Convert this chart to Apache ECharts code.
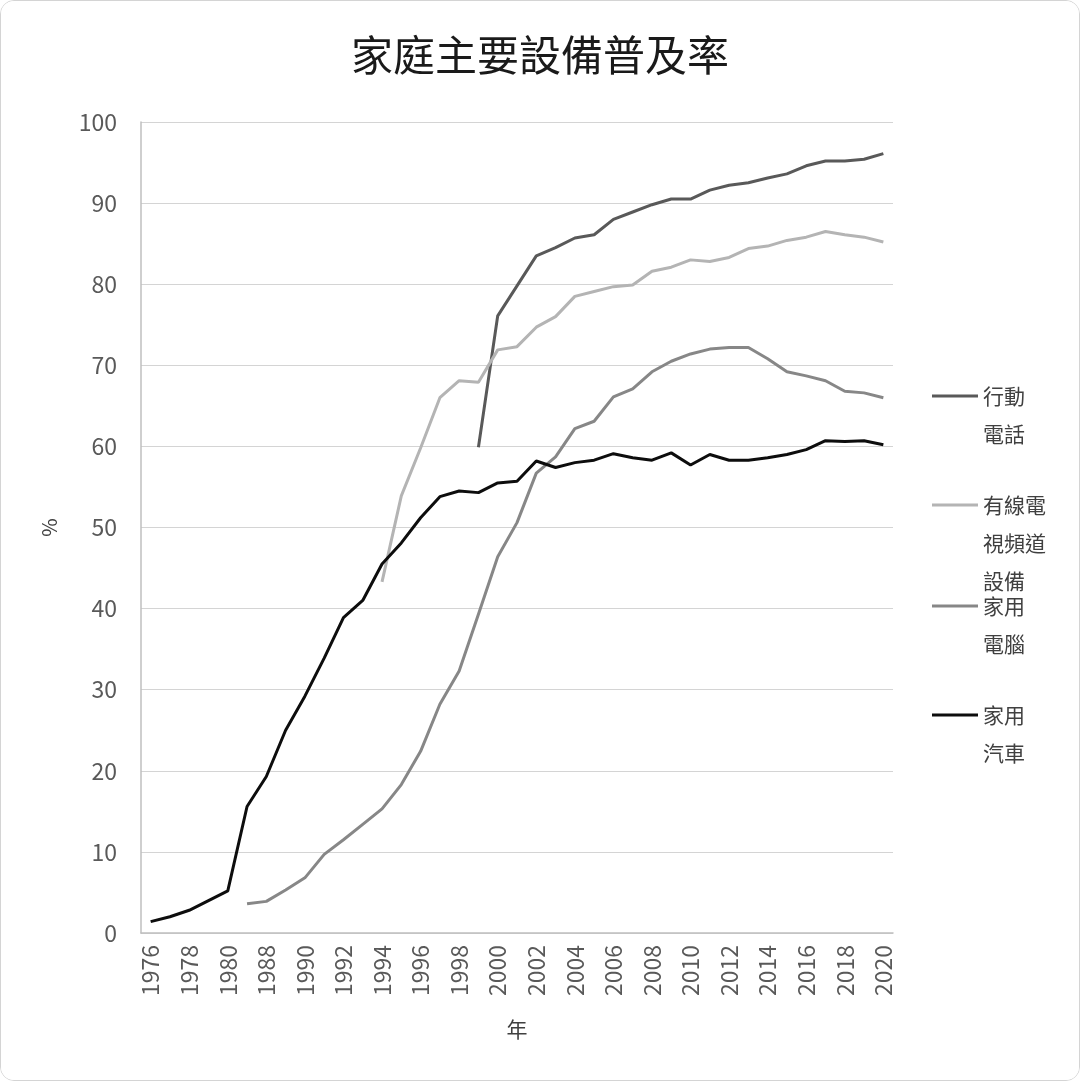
<!DOCTYPE html>
<html>
<head>
<meta charset="utf-8">
<script src="https://cdn.jsdelivr.net/npm/echarts@6/dist/echarts.min.js"></script>
<style>
  html, body { margin: 0; padding: 0; background: #fff; }
  #chart_pjl {
    width: 1080px;
    height: 1081px;
    box-sizing: border-box;
    border: 1px solid #d4d4d4;
    border-radius: 14px;
    overflow: hidden;
  }
</style>
</head>
<body>
<div id="chart_pjl"></div>
<script>
// 年份（1981-1986 無資料）
const years = [
  "1976", "1977", "1978", "1979", "1980",
  "1987", "1988", "1989", "1990", "1991", "1992", "1993", "1994", "1995", "1996",
  "1997", "1998", "1999", "2000", "2001", "2002", "2003", "2004", "2005", "2006",
  "2007", "2008", "2009", "2010", "2011", "2012", "2013", "2014", "2015", "2016",
  "2017", "2018", "2019", "2020"
];

const mobilePhone = [
  null, null, null, null, null,
  null, null, null, null, null, null, null, null, null, null,
  null, null, 59.9, 76.1, 79.8, 83.5, 84.5, 85.7, 86.1, 88.0,
  88.9, 89.8, 90.5, 90.5, 91.6, 92.2, 92.5, 93.1, 93.6, 94.6,
  95.2, 95.2, 95.4, 96.1
];

const cableTv = [
  null, null, null, null, null,
  null, null, null, null, null, null, null, 43.3, 53.9, 59.8,
  66.0, 68.1, 67.9, 71.9, 72.3, 74.7, 76.0, 78.5, 79.1, 79.7,
  79.9, 81.6, 82.1, 83.0, 82.8, 83.3, 84.4, 84.7, 85.4, 85.8,
  86.5, 86.1, 85.8, 85.2
];

const homePc = [
  null, null, null, null, null,
  3.6, 3.9, 5.3, 6.8, 9.7, 11.5, 13.4, 15.3, 18.3, 22.4,
  28.2, 32.3, 39.3, 46.4, 50.6, 56.7, 58.7, 62.2, 63.1, 66.1,
  67.1, 69.2, 70.5, 71.4, 72.0, 72.2, 72.2, 70.8, 69.2, 68.7,
  68.1, 66.8, 66.6, 66.0
];

const homeCar = [
  1.4, 2.0, 2.8, 4.0, 5.2,
  15.6, 19.3, 25.0, 29.2, 33.9, 38.9, 41.0, 45.5, 48.1, 51.2,
  53.8, 54.5, 54.3, 55.5, 55.7, 58.2, 57.4, 58.0, 58.3, 59.1,
  58.6, 58.3, 59.2, 57.7, 59.0, 58.3, 58.3, 58.6, 59.0, 59.6,
  60.7, 60.6, 60.7, 60.2
];

const yTicks = { min: 0, max: 100, step: 10 };

const seriesNames = ["行動電話", "有線電視頻道設備", "家用電腦", "家用汽車"];
// 圖例換行文字（前面空行讓第一行對齊圖示）
const legendText = {
  "行動電話": "\n行動\n電話",
  "有線電視頻道設備": "\n\n有線電\n視頻道\n設備",
  "家用電腦": "\n家用\n電腦",
  "家用汽車": "\n家用\n汽車"
};
const lineColors = ["#595959", "#b4b4b4", "#878787", "#0d0d0d"];

const FONT = "'Noto Sans CJK TC', 'Noto Sans', sans-serif";

function makeLegend(name, top) {
  return {
    data: [name],
    left: 931,
    top: top,
    padding: 0,
    icon: "rect",
    itemWidth: 46,
    itemHeight: 3,
    selectedMode: false,
    formatter: function (n) {
      return legendText[n];
    },
    textStyle: {
      fontFamily: FONT,
      fontSize: 21,
      lineHeight: 38,
      color: "#404040",
    },
  };
}

function chartsBtn() {
  var chartDom = document.getElementById("chart_pjl");
  let myChart = echarts.init(chartDom);
  var option = {
    animation: false,
    backgroundColor: "#fff",
    title: {
      text: "家庭主要設備普及率",
      left: "center",
      top: 28,
      textStyle: {
        fontFamily: FONT,
        fontSize: 42,
        fontWeight: "normal",
        color: "#1a1a1a",
      },
    },
    legend: [
      makeLegend(seriesNames[0], 338),
      makeLegend(seriesNames[1], 409),
      makeLegend(seriesNames[2], 548),
      makeLegend(seriesNames[3], 657),
    ],
    grid: {
      left: 140,
      right: 186,
      top: 121,
      bottom: 147,
      containLabel: false,
    },
    xAxis: {
      type: "category",
      data: years,
      boundaryGap: true,
      name: "年",
      nameLocation: "middle",
      nameGap: 86,
      nameTextStyle: {
        fontFamily: FONT,
        fontSize: 21,
        color: "#404040",
      },
      axisLine: { lineStyle: { color: "#bfbfbf", width: 1.5 } },
      axisTick: { show: false },
      axisLabel: {
        interval: 1,
        rotate: 90,
        margin: 12,
        fontFamily: FONT,
        fontSize: 23,
        color: "#595959",
      },
    },
    yAxis: {
      type: "value",
      min: yTicks.min,
      max: yTicks.max,
      interval: yTicks.step,
      name: "%",
      nameLocation: "middle",
      nameGap: 82,
      nameRotate: 90,
      nameTextStyle: {
        fontFamily: FONT,
        fontSize: 20,
        color: "#404040",
      },
      axisLine: { show: true, lineStyle: { color: "#bfbfbf", width: 1.5 } },
      axisTick: { show: false },
      splitLine: { lineStyle: { color: "#d4d4d4", width: 1 } },
      axisLabel: {
        margin: 24,
        fontFamily: FONT,
        fontSize: 23,
        color: "#595959",
      },
    },
    series: [
      { name: seriesNames[0], data: mobilePhone },
      { name: seriesNames[1], data: cableTv },
      { name: seriesNames[2], data: homePc },
      { name: seriesNames[3], data: homeCar },
    ].map(function (s, i) {
      return Object.assign(s, {
        type: "line",
        symbol: "none",
        connectNulls: false,
        color: lineColors[i],
        lineStyle: { width: 3, color: lineColors[i] },
      });
    }),
  };
  option && myChart.setOption(option, true);
}

chartsBtn();
</script>
</body>
</html>
